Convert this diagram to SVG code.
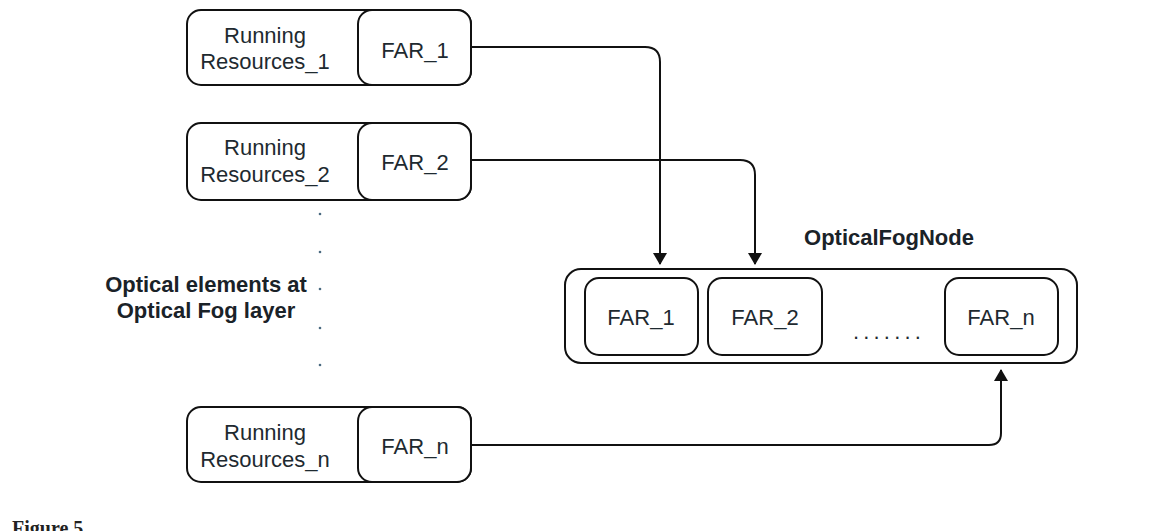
<svg xmlns="http://www.w3.org/2000/svg" width="1164" height="531" viewBox="0 0 1164 531">
<defs>
<style>
.box{fill:#fff;stroke:#111;stroke-width:2}
.t{font-family:"Liberation Sans",Arial,sans-serif;font-size:22px;fill:#1e2a30;text-anchor:middle}
.b{font-family:"Liberation Sans",Arial,sans-serif;font-size:22px;font-weight:bold;fill:#1a2228;text-anchor:middle}
.c{fill:none;stroke:#111;stroke-width:2}
.dot{fill:#4a6a80}
</style>
<marker id="ah" viewBox="0 0 12 14" refX="11" refY="7" markerWidth="12" markerHeight="14" markerUnits="userSpaceOnUse" orient="auto">
<path d="M0,0 L12,7 L0,14 Z" fill="#111"/>
</marker>
</defs>
<rect width="1164" height="531" fill="#fff"/>

<g id="rr1">
<rect class="box" x="187" y="10" width="284" height="75" rx="14"/>
<rect class="box" x="358" y="10" width="113" height="75" rx="14"/>
<text class="t" x="265" y="43">Running</text>
<text class="t" x="265" y="69">Resources_1</text>
<text class="t" x="415" y="58">FAR_1</text>
</g>

<g id="rr2">
<rect class="box" x="187" y="123" width="284" height="77" rx="14"/>
<rect class="box" x="358" y="123" width="113" height="77" rx="14"/>
<text class="t" x="265" y="155">Running</text>
<text class="t" x="265" y="182">Resources_2</text>
<text class="t" x="415" y="170">FAR_2</text>
</g>

<g id="rrn">
<rect class="box" x="187" y="407" width="284" height="75" rx="14"/>
<rect class="box" x="358" y="407" width="113" height="75" rx="14"/>
<text class="t" x="265" y="440">Running</text>
<text class="t" x="265" y="467">Resources_n</text>
<text class="t" x="415" y="454">FAR_n</text>
</g>

<g id="label">
<text class="b" x="206" y="292">Optical elements at</text>
<text class="b" x="206" y="318">Optical Fog layer</text>
<circle class="dot" cx="320" cy="214" r="1.3"/>
<circle class="dot" cx="320" cy="252" r="1.3"/>
<circle class="dot" cx="320" cy="289" r="1.3"/>
<circle class="dot" cx="320" cy="328" r="1.3"/>
<circle class="dot" cx="320" cy="365" r="1.3"/>
</g>

<g id="fognode">
<text class="b" x="889" y="245">OpticalFogNode</text>
<rect class="box" x="565" y="269" width="512" height="94" rx="16"/>
<rect class="box" x="585" y="278" width="113" height="77" rx="14"/>
<rect class="box" x="708" y="278" width="114" height="77" rx="14"/>
<rect class="box" x="945" y="278" width="113" height="77" rx="14"/>
<text class="t" x="641" y="325">FAR_1</text>
<text class="t" x="765" y="325">FAR_2</text>
<text class="t" x="1001" y="325">FAR_n</text>
<text class="t" x="889" y="339" letter-spacing="4.2">.......</text>
</g>

<g id="connectors">
<path class="c" d="M471,47 H645 Q660,47 660,62 V264" marker-end="url(#ah)"/>
<path class="c" d="M471,160 H740 Q755,160 755,175 V264" marker-end="url(#ah)"/>
<path class="c" d="M471,445 H989 Q1001,445 1001,433 V370" marker-end="url(#ah)"/>
</g>

<text x="12" y="535" font-family="'Liberation Serif',serif" font-weight="bold" font-size="20" fill="#222">Figure 5</text>
</svg>
